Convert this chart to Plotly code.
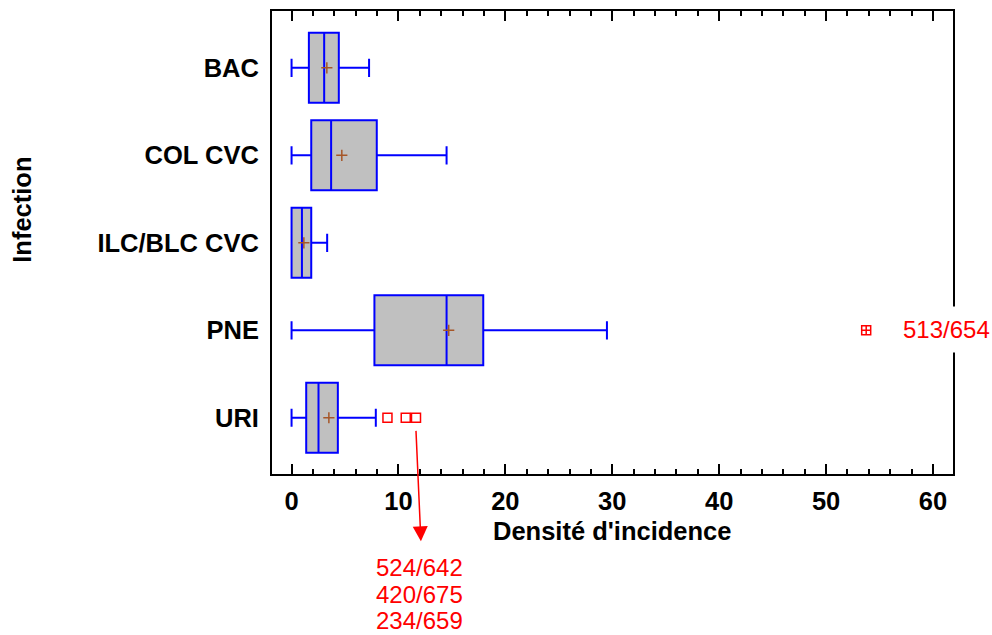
import plotly.graph_objects as go

# ---- data ----
categories = ["BAC", "COL CVC", "ILC/BLC CVC", "PNE", "URI"]
lower_whisker = [0.0, 0.0, 0.0, 0.0, 0.0]
q1_values = [1.62, 1.84, 0.0, 7.75, 1.37]
median_values = [3.05, 3.7, 0.97, 14.5, 2.52]
q3_values = [4.42, 7.97, 1.84, 17.93, 4.33]
upper_whisker = [7.25, 14.5, 3.33, 29.5, 7.88]
mean_values = [3.3, 4.7, 1.15, 14.7, 3.49]

outlier_x = [8.97, 10.68, 11.64]
outlier_cat = ["URI", "URI", "URI"]
far_outlier_x = [53.75]
far_outlier_cat = ["PNE"]
far_outlier_label = "513/654"
uri_outlier_labels = ["524/642", "420/675", "234/659"]

x_tickvals = [0, 10, 20, 30, 40, 50, 60]

FONT = "Liberation Sans, Arial, sans-serif"
BLUE = "#0000FF"
RED = "#FF0000"
BROWN = "#A65628"
BOLD_SIZE = 25.5

fig = go.Figure()

fig.add_trace(go.Box(
    y=categories,
    q1=q1_values,
    median=median_values,
    q3=q3_values,
    lowerfence=lower_whisker,
    upperfence=upper_whisker,
    orientation="h",
    fillcolor="#C0C0C0",
    line=dict(color=BLUE, width=2),
    whiskerwidth=0.26,
    width=0.8,
    boxpoints=False,
    showlegend=False,
    hoverinfo="skip",
))

fig.add_trace(go.Scatter(
    x=mean_values, y=categories, mode="markers",
    marker=dict(symbol="cross-thin", size=8, line=dict(color=BROWN, width=1.5)),
    showlegend=False, hoverinfo="skip",
))

fig.add_trace(go.Scatter(
    x=outlier_x, y=outlier_cat, mode="markers",
    marker=dict(symbol="square-open", size=9, color=RED, line=dict(color=RED, width=1.5)),
    showlegend=False, hoverinfo="skip",
))

fig.add_trace(go.Scatter(
    x=far_outlier_x, y=far_outlier_cat, mode="markers",
    marker=dict(symbol="square-cross-open", size=9, color=RED, line=dict(color=RED, width=1.5)),
    showlegend=False, hoverinfo="skip",
))

# plot area geometry (screen pixels)
plot_left = 272
plot_right = 952.7
plot_top = 11
plot_bottom = 474.3
plot_h = plot_bottom - plot_top
plot_w = plot_right - plot_left


def py(pix):
    return (plot_bottom - pix) / plot_h


def px(pix):
    return (pix - plot_left) / plot_w


annotations = []
# far outlier label, white background hides right border
annotations.append(dict(
    x=61.24, y=py(330), xref="x", yref="paper", text=far_outlier_label,
    showarrow=False, font=dict(family=FONT, size=24, color=RED),
    bgcolor="white", borderpad=9, xanchor="center", yanchor="middle",
))
# arrow from URI outliers down to labels
annotations.append(dict(
    x=12.1, y=py(541.7), xref="x", yref="paper", text="",
    showarrow=True, arrowhead=2, arrowsize=2, arrowwidth=1.5, arrowcolor=RED,
    ax=-5, ay=-112, axref="pixel", ayref="pixel",
))
for label, ypix in zip(uri_outlier_labels, [568, 595, 621]):
    annotations.append(dict(
        x=12.0, y=py(ypix), xref="x", yref="paper", text=label,
        showarrow=False, font=dict(family=FONT, size=24, color=RED),
        xanchor="center", yanchor="middle",
    ))
# axis titles
annotations.append(dict(
    x=px(612), y=py(531), xref="paper", yref="paper", text="<b>Densité d'incidence</b>",
    showarrow=False, font=dict(family=FONT, size=BOLD_SIZE, color="black"),
    xanchor="center", yanchor="middle",
))
annotations.append(dict(
    x=px(22), y=py(210), xref="paper", yref="paper", text="<b>Infection</b>",
    showarrow=False, font=dict(family=FONT, size=BOLD_SIZE, color="black"),
    xanchor="center", yanchor="middle", textangle=-90,
))

fig.update_layout(
    width=992, height=635,
    margin=dict(l=plot_left, r=992 - plot_right, t=plot_top,
                b=635 - plot_bottom, pad=0, autoexpand=False),
    paper_bgcolor="white", plot_bgcolor="white",
    font=dict(family=FONT, size=24, color="black"),
    annotations=annotations,
    xaxis=dict(
        range=[-1.83, 61.87],
        tickvals=x_tickvals,
        ticktext=[f"<b>{v}</b>" for v in x_tickvals],
        ticks="inside", ticklen=10, tickwidth=2, tickcolor="black",
        minor=dict(dtick=2, tick0=0, ticks="inside", ticklen=5, tickwidth=2, tickcolor="black"),
        showline=True, linecolor="black", linewidth=2, mirror="ticks",
        showgrid=False, zeroline=False,
        ticklabelstandoff=3,
        tickfont=dict(family=FONT, size=BOLD_SIZE, color="black"),
    ),
    yaxis=dict(
        type="category",
        categoryorder="array", categoryarray=categories,
        range=[4.643, -0.65],
        tickvals=categories,
        ticktext=[f"<b>{c}</b>" for c in categories],
        ticks="", showline=True, linecolor="black", linewidth=2, mirror=True,
        showgrid=False, zeroline=False,
        ticklabelstandoff=6,
        tickfont=dict(family=FONT, size=BOLD_SIZE, color="black"),
    ),
)

# remove the default page margin / scrollbars so the 992x635 figure fills the window
page_css = (
    "document.documentElement.style.margin='0';"
    "document.documentElement.style.overflow='hidden';"
    "document.body.style.margin='0';"
    "document.body.style.overflow='hidden';"
)
fig.write_html("out.html", post_script=page_css,
               config={"displayModeBar": False, "staticPlot": True})
